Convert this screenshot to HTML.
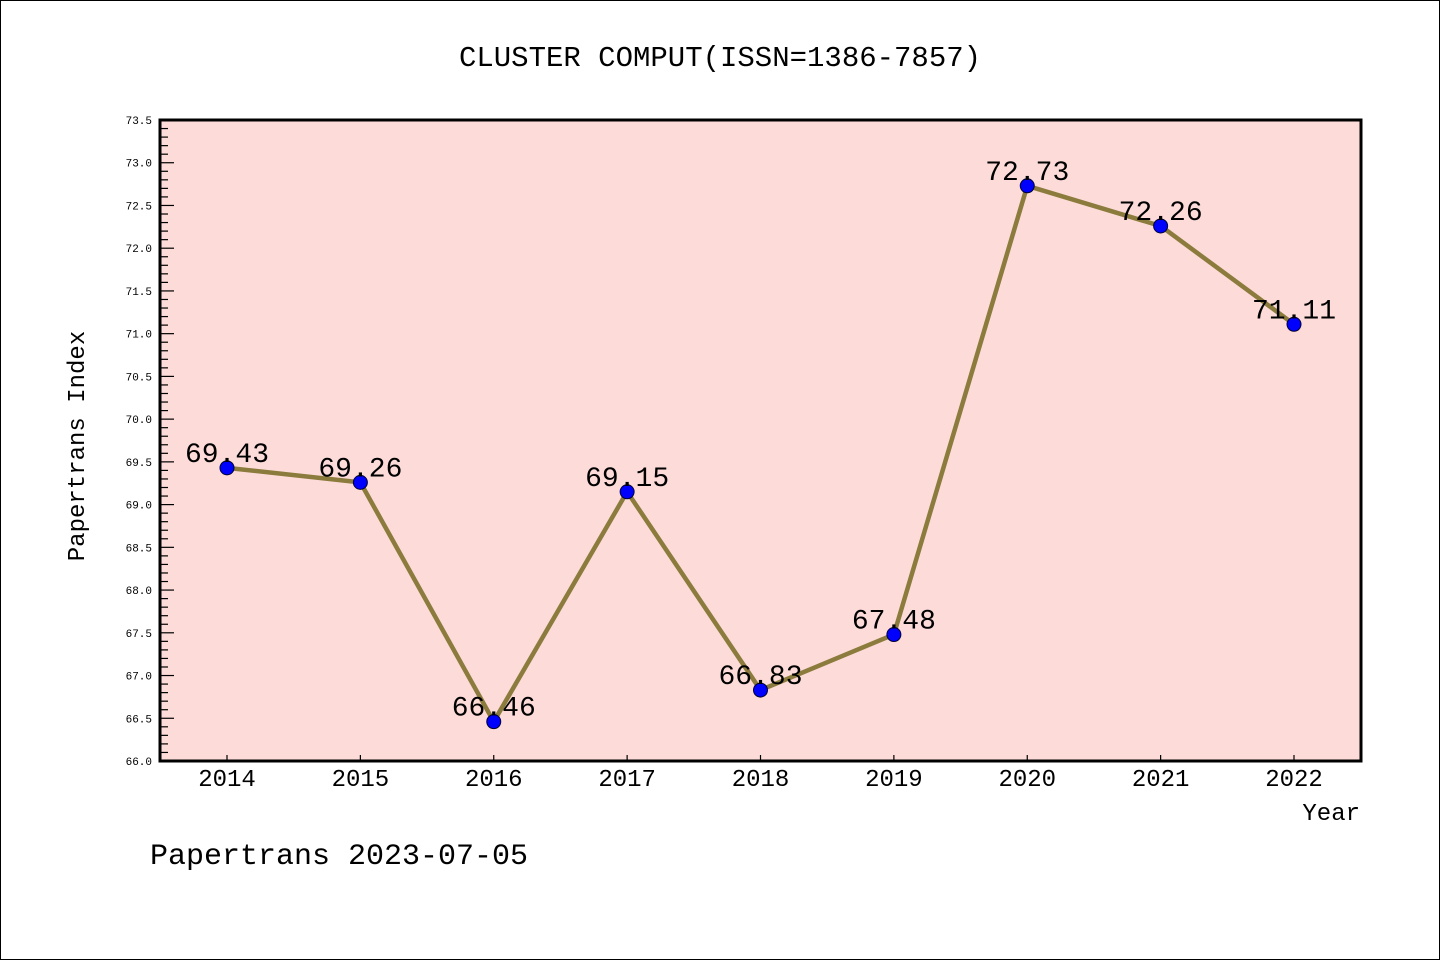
<!DOCTYPE html>
<html><head><meta charset="utf-8"><style>
body{margin:0;background:#fff}
svg{display:block}
text{font-family:"Liberation Mono","DejaVu Sans Mono",monospace}
</style></head><body>
<svg id="chart" width="1440" height="960" xmlns="http://www.w3.org/2000/svg">
<rect x="0.5" y="0.5" width="1439" height="959" fill="#fff" stroke="#000"/>
<text x="720" y="66" text-anchor="middle" font-size="29">CLUSTER COMPUT(ISSN=1386-7857)</text>
<rect x="160" y="120" width="1201" height="641" fill="#fddbd8"/>
<g id="yaxis"></g><g id="xaxis"></g><g id="series"></g>
<rect x="160" y="120" width="1201" height="641" fill="none" stroke="#000" stroke-width="3"/>
<text transform="translate(84,446) rotate(-90)" text-anchor="middle" font-size="24">Papertrans Index</text>
<text x="1360" y="820" text-anchor="end" font-size="24">Year</text>
<text x="150" y="864" font-size="30">Papertrans 2023-07-05</text>
</svg>
<script>
const years=["2014","2015","2016","2017","2018","2019","2020","2021","2022"];
const values=[69.43,69.26,66.46,69.15,66.83,67.48,72.73,72.26,71.11];
const labels=["69.43","69.26","66.46","69.15","66.83","67.48","72.73","72.26","71.11"];
const yTicks=["66.0","66.5","67.0","67.5","68.0","68.5","69.0","69.5","70.0","70.5","71.0","71.5","72.0","72.5","73.0","73.5"];
(function(){
const NS="http://www.w3.org/2000/svg";
const yMin=66,yMax=73.5,yTop=120,yBot=761,xLeft=160;
const y=v=>yBot-(v-yMin)/(yMax-yMin)*(yBot-yTop);
const x=i=>227+i*133.375;
function mk(t,a,p){const e=document.createElementNS(NS,t);for(const k in a)e.setAttribute(k,a[k]);p.appendChild(e);return e;}
const ya=document.getElementById('yaxis');
for(let k=0;k<=75;k++){const v=yMin+k*0.1;const major=k%5===0;
 const l=mk('line',{x1:xLeft,x2:xLeft+(major?14:8),y1:y(v),y2:y(v),stroke:'#000','stroke-width':1.2},ya);
 
 }
yTicks.forEach(t=>{const e=mk('text',{x:152,y:y(+t)+4,'text-anchor':'end','font-size':11},ya);e.textContent=t;
 
 });
const xa=document.getElementById('xaxis');
years.forEach((yr,i)=>{const l=mk('line',{x1:x(i),x2:x(i),y1:yBot,y2:yBot-6,stroke:'#000','stroke-width':1.2},xa);
 
 
 const t=mk('text',{x:x(i),y:yBot+25,'text-anchor':'middle','font-size':24},xa);t.textContent=yr;
 
 });
const s=document.getElementById('series');
const pl=mk('polyline',{points:values.map((v,i)=>x(i)+','+y(v)).join(' '),fill:'none',stroke:'#8b7b3c','stroke-width':4.5,'stroke-linejoin':'round'},s);


values.forEach((v,i)=>{const c=mk('circle',{cx:x(i),cy:y(v),r:7,fill:'#0000ff',stroke:'#000033','stroke-width':1},s);
 
 
 const t=mk('text',{x:x(i),y:y(v)-6,'text-anchor':'middle','font-size':28},s);t.textContent=labels[i];
 
 });
})();
</script>
</body></html>
